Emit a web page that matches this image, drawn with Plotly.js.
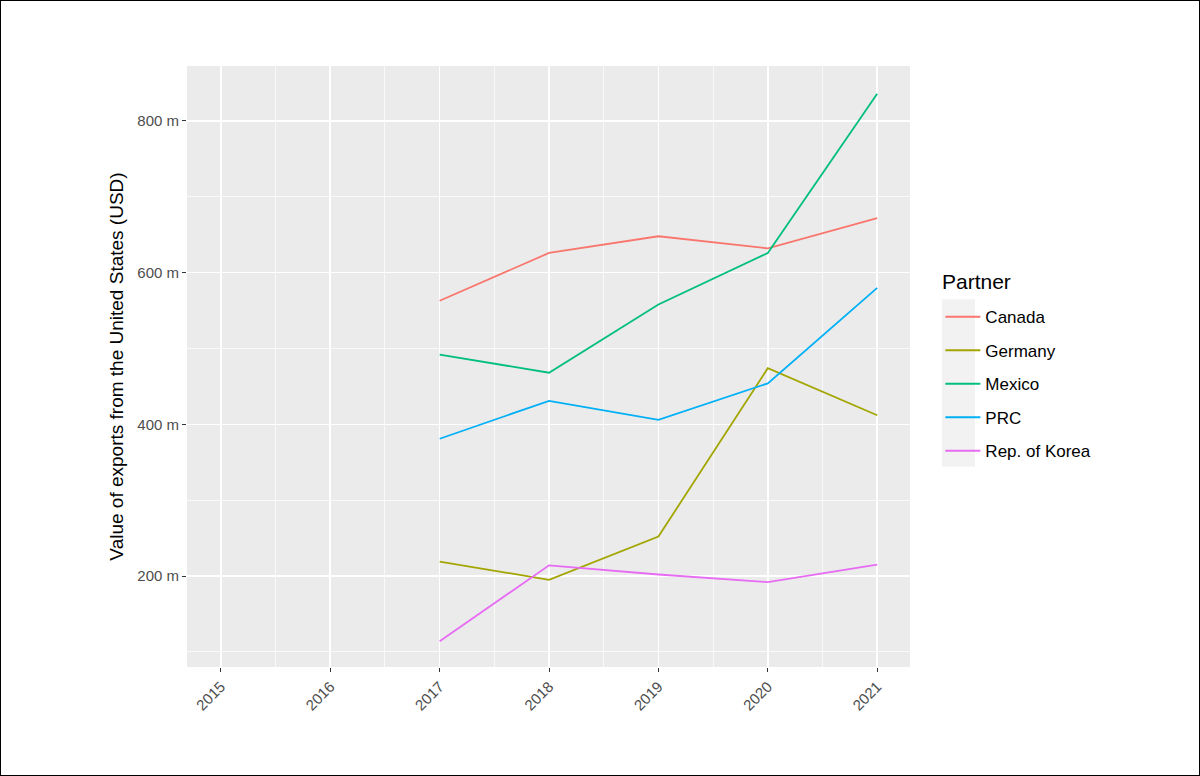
<!DOCTYPE html>
<html>
<head>
<meta charset="utf-8">
<script src="https://cdn.plot.ly/plotly-3.0.1.min.js"></script>
<style>
  html, body { margin: 0; padding: 0; background: #fff; }
  #chart { width: 1200px; height: 776px; }
  #frame { position: absolute; left: 0; top: 0; width: 1200px; height: 776px; box-sizing: border-box; border: 1.5px solid #000; pointer-events: none; }
</style>
</head>
<body>
<div id="chart"></div>
<div id="frame"></div>
<script>
const years = [2017, 2018, 2019, 2020, 2021];
const partners = ["Canada", "Germany", "Mexico", "PRC", "Rep. of Korea"];
const canada = [563, 626, 648, 632, 672];
const germany = [219, 195, 252, 474, 412];
const mexico = [492, 468, 558, 626, 836];
const prc = [381, 431, 406, 454, 580];
const korea = [114, 214, 202, 192, 215];
const colors = ["#F8766D", "#A3A500", "#00BF7D", "#00B0F6", "#E76BF3"];
const xTickVals = [2015, 2016, 2017, 2018, 2019, 2020, 2021];
const xTickText = ["2015", "2016", "2017", "2018", "2019", "2020", "2021"];
const yTickVals = [200, 400, 600, 800];
const yTickText = ["200 m", "400 m", "600 m", "800 m"];
const legendTitle = "Partner";

const series = [canada, germany, mexico, prc, korea];
const traces = series.map((vals, i) => ({
  type: "scatter",
  mode: "lines",
  x: years,
  y: vals,
  name: partners[i],
  legendgroup: "g" + i,
  line: { color: colors[i], width: 1.8 },
  hoverinfo: "x+y+name"
}));

const layout = {
  width: 1200,
  height: 776,
  paper_bgcolor: "#ffffff",
  plot_bgcolor: "#EBEBEB",
  font: { family: "Liberation Sans, Arial, sans-serif", color: "#000" },
  margin: { l: 187, r: 290, t: 66, b: 109 },
  xaxis: {
    range: [2014.69, 2021.3],
    tickvals: xTickVals,
    ticktext: xTickText,
    tickangle: -45,
    ticks: "outside",
    ticklen: 4,
    tickwidth: 1,
    tickcolor: "#333333",
    tickfont: { size: 15, color: "#4D4D4D" },
    showgrid: true,
    gridcolor: "#ffffff",
    gridwidth: 1.6,
    minor: { dtick: 1, tick0: 2014.5, showgrid: true, gridcolor: "#ffffff", gridwidth: 0.7, ticks: "" },
    zeroline: false,
    showline: false
  },
  yaxis: {
    range: [80, 872.5],
    tickvals: yTickVals,
    ticktext: yTickText,
    ticks: "outside",
    ticklen: 4,
    tickwidth: 1,
    tickcolor: "#333333",
    tickfont: { size: 15, color: "#4D4D4D" },
    showgrid: true,
    gridcolor: "#ffffff",
    gridwidth: 1.6,
    minor: { tickvals: [100, 300, 500, 700], showgrid: true, gridcolor: "#ffffff", gridwidth: 0.7, ticks: "" },
    zeroline: false,
    showline: false,
    title: { text: "Value of exports from the United States (USD)", font: { size: 19, color: "#000" }, standoff: 8 }
  },
  legend: {
    x: 1.042,
    xanchor: "left",
    y: 0.612,
    yanchor: "top",
    bgcolor: "rgba(0,0,0,0)",
    font: { size: 17, color: "#000" },
    tracegroupgap: 8.4,
    traceorder: "grouped",
    itemwidth: 35
  },
  annotations: [
    { text: legendTitle, xref: "paper", yref: "paper", x: 1.041, y: (667 - 281) / 601, xanchor: "left", yanchor: "middle", showarrow: false, font: { size: 21, color: "#000" } }
  ],
  shapes: [
    { type: "rect", xref: "paper", yref: "paper", x0: 1.044, x1: 1.09, y0: 0.333, y1: 0.612, fillcolor: "#F2F2F2", line: { width: 0 }, layer: "below" }
  ],
  showlegend: true
};

Plotly.newPlot("chart", traces, layout, { displayModeBar: false, staticPlot: true });
</script>
</body>
</html>
